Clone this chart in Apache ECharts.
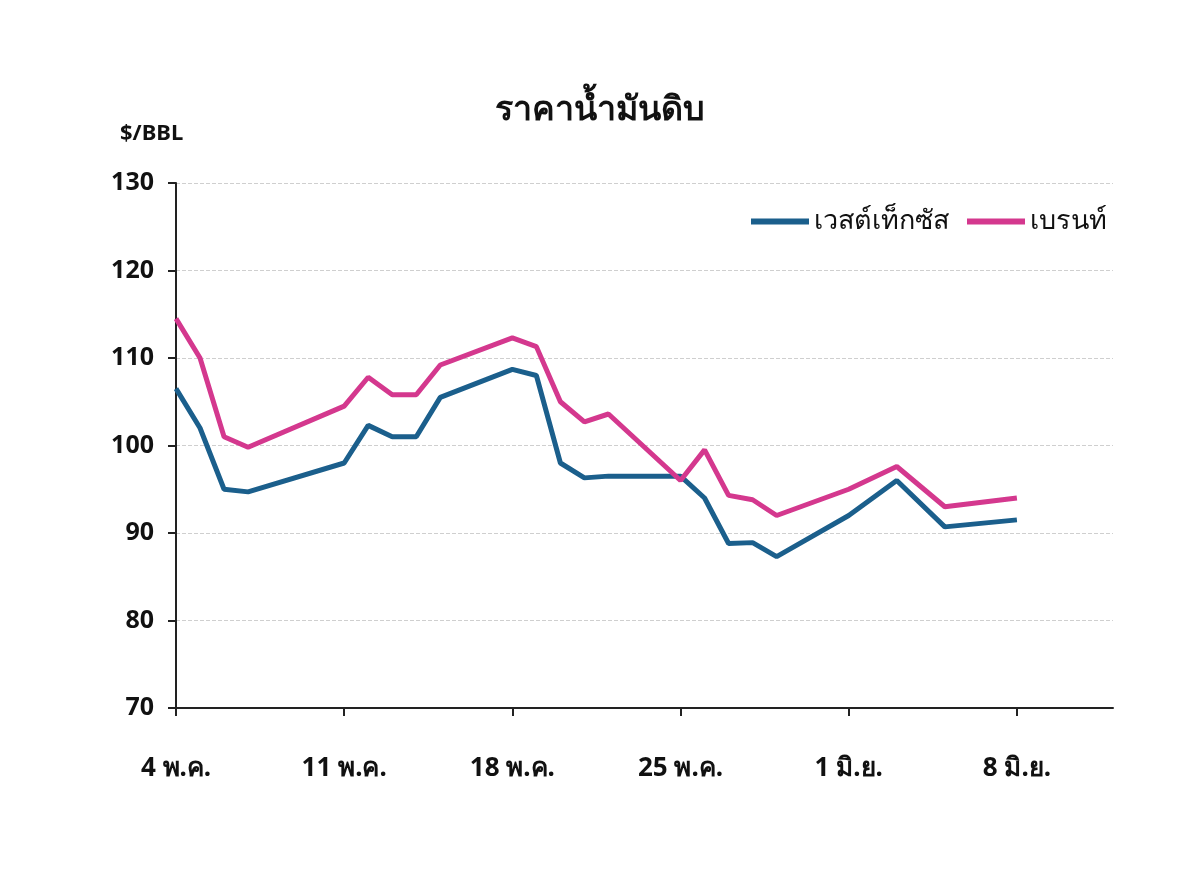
<!DOCTYPE html>
<html>
<head>
<meta charset="utf-8">
<title>ราคาน้ำมันดิบ</title>
<script src="https://cdn.jsdelivr.net/npm/echarts@6/dist/echarts.min.js"></script>
<style>html,body{margin:0;background:#fff}</style>
</head>
<body>
<div id="main" style="width:1200px;height:874px;"></div>
<script>
// วันที่ 4 พ.ค. ถึง 12 มิ.ย. (40 วัน), ป้ายทุก 7 วัน
var tickLabels = ['4 พ.ค.', '11 พ.ค.', '18 พ.ค.', '25 พ.ค.', '1 มิ.ย.', '8 มิ.ย.'];
var days = [];
for (var i = 0; i < 40; i++) days.push(i % 7 === 0 ? tickLabels[i / 7] : '');

var wti = [106.5, 102, 95, 94.7, null, null, null, 98, 102.3, 101, 101, 105.5, null, null,
           108.7, 108, 98, 96.3, 96.5, null, null, 96.5, 94, 88.8, 88.9, 87.3, null, null,
           92, null, 96, null, 90.7, null, null, 91.5, null, null, null, null];
var brent = [114.5, 110, 101, 99.8, null, null, null, 104.5, 107.8, 105.8, 105.8, 109.2, null, null,
             112.3, 111.3, 105, 102.7, 103.6, null, null, 96, 99.5, 94.3, 93.8, 92, null, null,
             95, null, 97.6, null, 93, null, null, 94, null, null, null, null];

var font = 'Noto Sans, Liberation Sans, sans-serif';
var chart = echarts.init(document.getElementById('main'));
chart.setOption({
    animation: false,
    title: {
        text: 'ราคาน้ำมันดิบ', left: 'center', top: 88,
        textStyle: { fontSize: 34, fontWeight: 'bold', color: '#111', fontFamily: font }
    },
    graphic: [{
        type: 'text', left: 120, top: 123,
        style: { text: '$/BBL', fontSize: 22, fontWeight: 'bold', fill: '#111', fontFamily: font }
    }],
    legend: {
        top: 203, right: 88, itemWidth: 58, itemHeight: 6, itemGap: 18,
        icon: 'rect',
        textStyle: { fontSize: 27, color: '#111', fontFamily: font }
    },
    grid: { left: 176, right: 87, top: 183, bottom: 166 },
    xAxis: {
        type: 'category', data: days, boundaryGap: false,
        axisLine: { lineStyle: { color: '#222', width: 2 } },
        axisTick: { interval: 6, length: 8, lineStyle: { color: '#222', width: 2 } },
        axisLabel: { interval: 6, margin: 48, fontSize: 26, fontWeight: 'bold', color: '#111', fontFamily: font },
        splitLine: { show: false }
    },
    yAxis: {
        type: 'value', min: 70, max: 130, interval: 10,
        axisLine: { show: true, lineStyle: { color: '#222', width: 2 } },
        axisTick: { show: true, length: 8, inside: false, lineStyle: { color: '#222', width: 2 } },
        axisLabel: { fontSize: 25, fontWeight: 'bold', color: '#111', margin: 22, fontFamily: font },
        splitLine: { lineStyle: { color: '#cfcfcf', type: 'dashed' } }
    },
    series: [{
        name: 'เวสต์เท็กซัส', type: 'line', data: wti, connectNulls: true,
        showSymbol: false, color: '#1b5f8c', lineStyle: { width: 5 }
    }, {
        name: 'เบรนท์', type: 'line', data: brent, connectNulls: true,
        showSymbol: false, color: '#d4388e', lineStyle: { width: 5 }
    }]
});
</script>
</body>
</html>
